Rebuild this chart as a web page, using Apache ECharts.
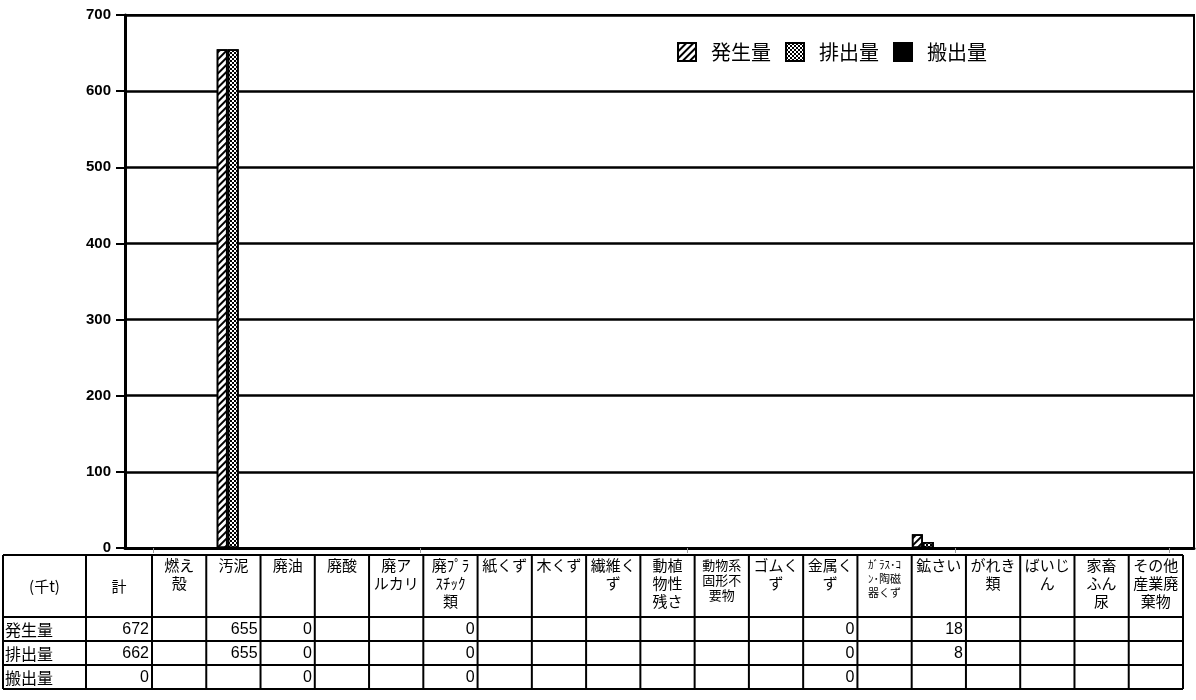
<!DOCTYPE html>
<html>
<head>
    <meta charset="utf-8">
    <title>産業廃棄物 発生量・排出量・搬出量</title>
    <style>
        body { margin: 0; background: #fff; }
        #main { width: 1196px; height: 700px; }
    </style>
</head>
<body>
    <div id="main"></div>
    <script src="https://cdn.jsdelivr.net/npm/echarts@6/dist/echarts.min.js"></script>
    <script>
        // 種類（表の列）: 先頭の「計」はグラフには描かない
        var categories = ['計', '燃え殻', '汚泥', '廃油', '廃酸', '廃アルカリ', '廃プラスチック類', '紙くず', '木くず', '繊維くず',
            '動植物性残さ', '動物系固形不要物', 'ゴムくず', '金属くず', 'ガラス・コンクリート・陶磁器くず', '鉱さい',
            'がれき類', 'ばいじん', '家畜ふん尿', 'その他産業廃棄物'];
        // 表の見出し（改行位置は元の表のまま）
        var headerLabels = ['計', '燃え\n殻', '汚泥', '廃油', '廃酸', '廃ア\nルカリ', '廃ﾌﾟﾗ\nｽﾁｯｸ\n類', '紙くず', '木くず', '繊維く\nず',
            '動植\n物性\n残さ', '動物系\n固形不\n要物', 'ゴムく\nず', '金属く\nず', 'ｶﾞﾗｽ･ｺ\nﾝ･陶磁\n器くず', '鉱さい',
            'がれき\n類', 'ばいじ\nん', '家畜\nふん\n尿', 'その他\n産業廃\n棄物'];
        var seriesNames = ['発生量', '排出量', '搬出量'];
        // 単位: 千t（null は空欄）
        var generated  = [672, null, 655, 0, null, null, 0, null, null, null, null, null, null, 0, null, 18, null, null, null, null];
        var discharged = [662, null, 655, 0, null, null, 0, null, null, null, null, null, null, 0, null, 8, null, null, null, null];
        var carriedOut = [0, null, null, 0, null, null, 0, null, null, null, null, null, null, 0, null, null, null, null, null, null];
        var unitLabel = '(千t)';
        var yMin = 0, yMax = 700, yStep = 100;

        var chart = echarts.init(document.getElementById('main'));

        var jpFont = '"Noto Sans CJK JP", "Noto Sans", sans-serif';
        var numFont = '"Liberation Sans", Arial, sans-serif';

        // 模様
        var hatch = {
            symbol: 'rect', symbolSize: 1, color: '#000', backgroundColor: '#fff',
            dashArrayX: [1, 0], dashArrayY: [1.5, 2.5], rotation: -Math.PI / 4
        };
        var checker = {
            symbol: 'rect', symbolSize: 1, color: '#000', backgroundColor: '#fff',
            dashArrayX: [[2, 2], [0, 2, 2, 0]], dashArrayY: [2, 0]
        };

        var chartCats = categories.slice(1);
        var seriesData = [generated.slice(1), discharged.slice(1), carriedOut.slice(1)];
        var styles = [
            { color: '#fff', borderColor: '#000', borderWidth: 1.8, decal: hatch },
            { color: '#fff', borderColor: '#000', borderWidth: 1.8, decal: checker },
            { color: '#000', borderColor: '#000', borderWidth: 1.8 }
        ];
        var series = seriesNames.map(function (name, i) {
            return {
                name: name,
                type: 'bar',
                xAxisIndex: 1,
                yAxisIndex: 1,
                barWidth: 11,
                barGap: '0%',
                itemStyle: styles[i],
                emphasis: { disabled: true },
                data: seriesData[i]
            };
        });

        // 表（グラフの下）
        var tableTop = 555, headerBottom = 617, rowH = 24;
        var colX = [3, 86, 152];
        for (var k = 1; k <= 19; k++) colX.push(152 + k * (1183 - 152) / 19);
        var rowY = [tableTop, headerBottom, headerBottom + rowH, headerBottom + 2 * rowH, headerBottom + 3 * rowH];
        var tableRows = [generated, discharged, carriedOut];

        var graphics = [];
        function line(x1, y1, x2, y2) {
            graphics.push({
                type: 'line', silent: true, z: 10,
                shape: { x1: x1, y1: y1, x2: x2, y2: y2 },
                style: { stroke: '#000', lineWidth: 2 }
            });
        }
        function text(str, x, y, font, align, vAlign, lh) {
            graphics.push({
                type: 'text', silent: true, z: 11,
                style: { text: str, x: x, y: y, font: font, fill: '#000', align: align, verticalAlign: vAlign, lineHeight: lh }
            });
        }
        rowY.forEach(function (y) { line(colX[0], y, colX[colX.length - 1], y); });
        colX.forEach(function (x) { line(x, tableTop, x, rowY[rowY.length - 1]); });

        text(unitLabel, (colX[0] + colX[1]) / 2, (tableTop + headerBottom) / 2, '15px ' + jpFont, 'center', 'middle', 18);
        headerLabels.forEach(function (lab, i) {
            var cx = (colX[i + 1] + colX[i + 2]) / 2;
            if (i === 0) {
                text(lab, cx, (tableTop + headerBottom) / 2, '15px ' + jpFont, 'center', 'middle', 18);
            } else if (lab.indexOf('動物系') === 0) {
                text(lab, cx, tableTop + 3, '13px ' + jpFont, 'center', 'top', 15);
            } else if (lab.indexOf('ｶﾞﾗｽ') === 0) {
                text(lab, cx, tableTop + 3, '11px ' + jpFont, 'center', 'top', 14);
            } else {
                text(lab, cx, tableTop + 1, '15px ' + jpFont, 'center', 'top', 18);
            }
        });
        seriesNames.forEach(function (name, r) {
            var cy = (rowY[r + 1] + rowY[r + 2]) / 2 + 1;
            text(name, colX[0] + 2, cy, '16px ' + jpFont, 'left', 'middle', 18);
            tableRows[r].forEach(function (v, i) {
                if (v === null) return;
                text(String(v), colX[i + 2] - 3, cy, '16px ' + numFont, 'right', 'middle', 18);
            });
        });

        var option = {
            animation: false,
            backgroundColor: '#fff',
            legend: {
                left: 672,
                top: 37,
                itemWidth: 18,
                itemHeight: 18,
                itemGap: 14,
                icon: 'rect',
                selectedMode: false,
                textStyle: { fontSize: 20, fontFamily: jpFont, color: '#000', padding: [0, 0, 0, 10] },
                data: seriesNames
            },
            grid: [
                { left: 125, right: 2, top: 15, bottom: 152, show: true, borderColor: '#000', borderWidth: 2 },
                { left: 153, right: 27, top: 15, bottom: 152 }
            ],
            xAxis: [
                {
                    gridIndex: 0, type: 'value', min: 0, max: 1,
                    axisLine: { show: true, onZero: false, lineStyle: { color: '#000', width: 3 } },
                    axisTick: { show: false }, axisLabel: { show: false }, splitLine: { show: false }
                },
                {
                    gridIndex: 1, type: 'category', data: chartCats,
                    axisLine: { show: false },
                    axisTick: { show: true, length: 5, lineStyle: { color: '#999', width: 1 } },
                    axisLabel: { show: false }
                }
            ],
            yAxis: [
                {
                    gridIndex: 0, type: 'value', min: yMin, max: yMax, interval: yStep,
                    axisLine: { show: true, lineStyle: { color: '#000', width: 3 } },
                    axisTick: { show: true, length: 9, lineStyle: { color: '#000', width: 2 } },
                    axisLabel: { margin: 14, color: '#000', fontSize: 15, fontWeight: 'bold', fontFamily: numFont },
                    splitLine: { show: true, lineStyle: { color: '#000', width: 2.5 } }
                },
                {
                    gridIndex: 1, type: 'value', min: yMin, max: yMax, interval: yStep, show: false,
                    splitLine: { show: false }
                }
            ],
            graphic: graphics,
            series: series
        };
        chart.setOption(option);
    </script>
</body>
</html>
